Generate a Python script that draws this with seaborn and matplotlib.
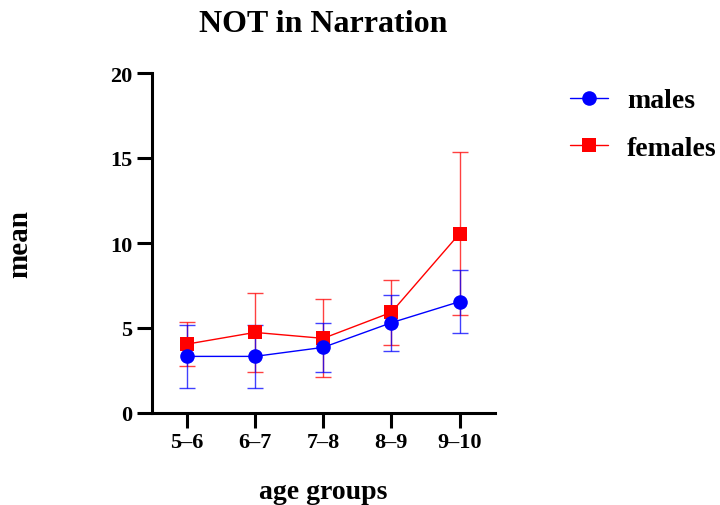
import matplotlib
matplotlib.use("Agg")
import matplotlib.pyplot as plt
import seaborn as sns
import numpy as np
import pandas as pd

# ---- data ----
age_groups = ["5–6", "6–7", "7–8", "8–9", "9–10"]
males_mean = [3.33, 3.33, 3.86, 5.31, 6.55]
males_err = [1.84, 1.83, 1.45, 1.64, 1.87]
females_mean = [4.05, 4.74, 4.39, 5.92, 10.55]
females_err = [1.31, 2.30, 2.30, 1.90, 4.80]
y_ticks = [0, 5, 10, 15, 20]

sns.set_theme(style="ticks")
plt.rcParams['font.family'] = ['Liberation Serif', 'DejaVu Serif']
plt.rcParams['text.color'] = 'black'
plt.rcParams['axes.labelcolor'] = 'black'
plt.rcParams['xtick.color'] = 'black'
plt.rcParams['ytick.color'] = 'black'

fig = plt.figure(figsize=(7.2, 5.06), dpi=100)
ax = fig.add_axes([152/720, (506-414)/506, (495-152)/720, (414-74)/506])

pos = np.arange(len(age_groups))
df = pd.DataFrame({
    "pos": np.concatenate([pos, pos]),
    "mean": females_mean + males_mean,
    "err": females_err + males_err,
    "sex": ["females"] * len(pos) + ["males"] * len(pos),
})

palette = {"males": "#0000ff", "females": "#ff0000"}
markers = {"males": "o", "females": "s"}
sizes = {"males": 10.5, "females": 9.5}

for sex in ["females", "males"]:
    sub = df[df["sex"] == sex]
    ax.errorbar(sub["pos"], sub["mean"], yerr=sub["err"], fmt="none",
                ecolor=palette[sex], elinewidth=1.0, capsize=6, capthick=1.0,
                alpha=0.75, zorder=2)
    sns.lineplot(data=sub, x="pos", y="mean", ax=ax, color=palette[sex],
                 marker=markers[sex], markersize=sizes[sex], markeredgewidth=0,
                 linewidth=1.0, label=sex, zorder=3)

ax.set_xlim(-0.51, 4.52)
ax.set_ylim(0, 20)
ax.set_xticks(pos)
ax.set_xticklabels(age_groups)
ax.set_yticks(y_ticks)

for s in ["top", "right"]:
    ax.spines[s].set_visible(False)
for s in ["left", "bottom"]:
    ax.spines[s].set_linewidth(2.2)
    ax.spines[s].set_color("black")
ax.tick_params(axis="both", length=11, width=2.2, color="black",
               labelsize=16, pad=3)
for lab in ax.get_xticklabels() + ax.get_yticklabels():
    lab.set_fontweight("bold")

ax.set_xlabel("age groups", fontsize=20, fontweight="bold")
ax.set_ylabel("mean", fontsize=21, fontweight="bold")
ax.xaxis.set_label_coords(0.5, -0.195)
ax.yaxis.set_label_coords(-0.346, 0.5)

ax.set_title("NOT in Narration", fontsize=23, fontweight="bold", pad=0,
             y=1.0 + (74 - 32) / 340)

handles, labels = ax.get_legend_handles_labels()
order = [labels.index("males"), labels.index("females")]
leg = ax.legend([handles[i] for i in order], [labels[i] for i in order],
                loc="upper left", bbox_to_anchor=(570/720, (506-89)/506),
                bbox_transform=fig.transFigure, frameon=False,
                prop={"size": 20, "weight": "bold"}, borderpad=0,
                borderaxespad=0, handlelength=1.37, handletextpad=0.68,
                labelspacing=0.78)

fig.savefig("out.png", dpi=100)
